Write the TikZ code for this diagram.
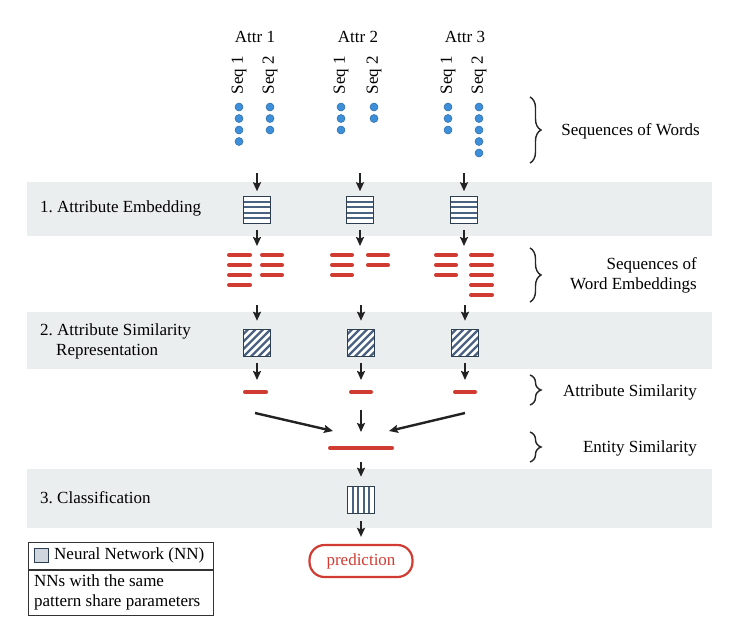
\documentclass[tikz,border=0pt]{standalone}
\usepackage{fontspec}
\setmainfont{Liberation Serif}
\usepackage{tikz}
\usetikzlibrary{positioning,arrows.meta,calc,decorations.pathreplacing}
\frenchspacing

\definecolor{bandgray}{HTML}{EBEEEF}
\definecolor{dotblue}{HTML}{3D8FD9}
\definecolor{nnblue}{HTML}{4A6282}
\definecolor{nnedge}{HTML}{2C3E50}
\definecolor{embred}{HTML}{D03B32}
\definecolor{legendfill}{HTML}{CFD6DE}
\definecolor{arrowgray}{HTML}{222222}

\begin{document}
\begin{tikzpicture}[x=1pt, y=-1pt, every node/.style={font=\fontsize{17}{20}\selectfont, inner sep=0pt},
  band/.style={fill=bandgray, draw=none},
  word/.style={circle, fill=dotblue, draw=dotblue!75!black, line width=0.5pt, minimum size=8pt},
  emb/.style={draw=embred, line width=3.8pt, line cap=round, shorten <=1.9pt, shorten >=1.9pt},
  flow/.style={-{Stealth[length=9pt,width=8pt,inset=1.5pt]}, line width=2.4pt, draw=arrowgray},
  nnbox/.style={draw=nnedge, line width=1.5pt, minimum size=27pt, fill=white},
  hbox/.style={nnbox, path picture={\foreach \k in {1,...,4} \draw[nnblue, line width=2.3pt] ([yshift=-\k*5.4pt]path picture bounding box.north west) -- ([yshift=-\k*5.4pt]path picture bounding box.north east);}},
  dbox/.style={nnbox, path picture={\foreach \k in {-37.5,-30,...,30} \draw[nnblue, line width=2.3pt] ([xshift=\k pt]path picture bounding box.south west) -- ([xshift=\k pt+30pt, yshift=30pt]path picture bounding box.south west);}},
  vbox/.style={nnbox, path picture={\foreach \k in {1,...,4} \draw[nnblue, line width=2.3pt] ([xshift=\k*5.4pt]path picture bounding box.north west) -- ([xshift=\k*5.4pt]path picture bounding box.south west);}},
  sidebrace/.style={decorate, decoration={brace, amplitude=11pt}, line width=1.4pt, draw=black!85},
  pred/.style={draw=embred, text=embred, line width=2.2pt, rounded corners=15pt, minimum width=103pt, minimum height=32pt},
  legicon/.style={draw=nnedge, fill=legendfill, line width=1pt, minimum size=14pt},
]
\useasboundingbox (0,0) rectangle (738,627);

\fill[band] (27,182) rectangle (712,236);
\fill[band] (27,312) rectangle (712,369);
\fill[band] (27,469) rectangle (712,528);

\node (attr1) at (255,37) {Attr 1};
\node (attr2) at (358,37) {Attr 2};
\node (attr3) at (465,37) {Attr 3};
\foreach \x/\s in {239/1, 270/2, 341/1, 374/2, 448/1, 479/2}
  \node[rotate=90] (seq\x) at (\x,75) {Seq \s};
\foreach \x/\n in {239/4, 270/3, 341/3, 374/2, 448/3, 479/5}
  \foreach \k in {1,...,\n}
    \node[word] (d\x-\k) at (\x, {95.5+11.5*\k}) {};

\node[anchor=west] (lab1) at (40,208) {1. Attribute Embedding};
\node[anchor=west, align=left] (lab2) at (40,341) {2. Attribute Similarity\\\hspace*{16pt}Representation};
\node[anchor=west] (lab3) at (40,498) {3. Classification};

\node[hbox] (emb1) at (257,210) {};
\node[hbox] (emb2) at (360,210) {};
\node[hbox] (emb3) at (464,210) {};
\node[dbox] (sim1) at (257,343) {};
\node[dbox] (sim2) at (361,343) {};
\node[dbox] (sim3) at (465,343) {};
\node[vbox] (cls) at (361,500) {};

\foreach \c/\x in {1/257, 2/360, 3/464} {
  \coordinate (w\c) at (\x,173);
  \coordinate (e\c) at (\x,246);
  \draw[flow, shorten >=4.5pt] (w\c) -- (emb\c.north);
  \draw[flow, shorten <=5.5pt] (emb\c.south) -- (e\c);
}

\foreach \xa/\xb/\n in {227/252/4, 260/284/3, 330/354/3, 366/390/2, 434/458/3, 469/494/5}
  \foreach \k in {1,...,\n}
    \draw[emb] (\xa, {245+10*\k}) -- (\xb, {245+10*\k});

\foreach \c/\x in {1/257, 2/361, 3/465} {
  \coordinate (s\c) at (\x,305);
  \coordinate (t\c) at (\x,380);
  \draw[flow, shorten >=8pt] (s\c) -- (sim\c.north);
  \draw[flow, shorten <=6pt] (sim\c.south) -- (t\c);
}
\draw[emb] (243,392) -- (268,392);
\draw[emb] (349,392) -- (373,392);
\draw[emb] (453,392) -- (477,392);

\coordinate (f1) at (255,413);
\coordinate (f2) at (361,410);
\coordinate (f3) at (465,413);
\coordinate (m1) at (333,431);
\coordinate (m2) at (361,432);
\coordinate (m3) at (389,431);
\draw[flow] (f1) -- (m1);
\draw[flow] (f2) -- (m2);
\draw[flow] (f3) -- (m3);
\draw[emb] (328,448) -- (394,448);

\coordinate (g) at (361,462);
\draw[flow, shorten >=9pt] (g) -- (cls.north);
\node[pred] (out) at (361,561) {prediction};
\draw[flow, shorten <=7pt, shorten >=7pt] (cls.south) -- (out.north);

\coordinate (b1t) at (530,97);
\coordinate (b1b) at (530,163);
\coordinate (b2t) at (530,248);
\coordinate (b2b) at (530,302);
\coordinate (b3t) at (530,375);
\coordinate (b3b) at (530,405);
\coordinate (b4t) at (530,432);
\coordinate (b4b) at (530,462);
\draw[sidebrace] (b1t) -- (b1b);
\draw[sidebrace] (b2t) -- (b2b);
\draw[sidebrace] (b3t) -- (b3b);
\draw[sidebrace] (b4t) -- (b4b);
\node[anchor=east] (words) at (700,131) {Sequences of Words};
\node[anchor=east, align=right] (wembs) at (697,275) {Sequences of\\Word Embeddings};
\node[anchor=east] (asim) at (697,392) {Attribute Similarity};
\node[anchor=east] (esim) at (697,448) {Entity Similarity};

\node[draw=black!80, line width=0.8pt, minimum width=185pt, minimum height=27pt, anchor=north west] (legtop) at (28,542) {};
\node[legicon] (icon) at (41.5,555) {};
\node[right=5pt of icon] (legnn) {Neural Network (NN)};
\node[draw=black!80, line width=0.8pt, minimum width=185pt, minimum height=45pt, anchor=north west] (legbot) at (legtop.south west) {};
\node[anchor=west, align=left] (legtxt) at ([xshift=6pt]legbot.west) {NNs with the same\\pattern share parameters};
\end{tikzpicture}
\end{document}
